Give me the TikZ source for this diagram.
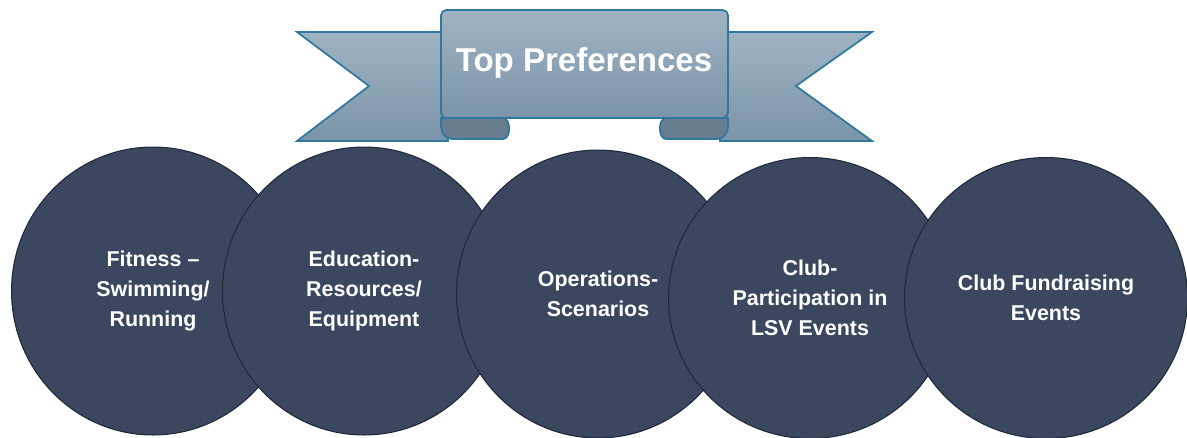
\documentclass[tikz,border=0pt]{standalone}
\usepackage{fontspec}
\setmainfont{Liberation Sans}
\usetikzlibrary{shapes.geometric}
\definecolor{bubblefill}{HTML}{3A475F}
\definecolor{bubbleedge}{HTML}{1D2A3A}
\definecolor{ribbonedge}{HTML}{31789E}
\definecolor{ribbontop}{HTML}{A0B3C3}
\definecolor{ribbonbottom}{HTML}{7B94A9}
\definecolor{ribbonfold}{HTML}{687D90}

\begin{document}
\begin{tikzpicture}[x=0.02cm, y=-0.02cm,
    bubble/.style={ellipse, draw=bubbleedge, fill=bubblefill, line width=0.6pt,
      minimum width=5.66cm, minimum height=5.76cm, inner sep=0pt,
      align=center, text=white, font=\fontsize{12.2}{17}\selectfont\bfseries},
    ribbon/.style={draw=ribbonedge, line width=1pt, top color=ribbontop,
      bottom color=ribbonbottom},
    fold/.style={draw=ribbonedge, line width=1pt, fill=ribbonfold}]
    \useasboundingbox (0,0) rectangle (1187,437);

    \path [ribbon] (297,32) -- (448,32) -- (448,141) -- (297,141) --
    (369,86) -- cycle; \path [ribbon] (872,32) -- (720,32) -- (720,141)
    -- (872,141) -- (796,86) -- cycle;
    \path [fold] (441,118) -- (503,118) to [out=0,in=0] (503,139) --
    (452,139) to [out=180,in=-90] (441,126) -- cycle; \path [fold]
    (728,118) -- (666,118) to [out=180,in=180] (666,139) -- (717,139)
    to [out=0,in=-90] (728,126) -- cycle;
    \path [ribbon, rounded corners=3pt] (441,118) -- (441,10) -- (728,10)
    -- (728,118) -- cycle;
    \node [text=white, font=\fontsize{18.8}{22}\selectfont\bfseries] (title)
    at (584,63) {Top Preferences};

    \begin{scope}[every node/.style={bubble}]
      \node (1) at (153,291) {Fitness --\\Swimming/\\Running};
      \node (2) at (364,291) {Education-\\Resources/\\Equipment};
      \node (3) at (598,294) {Operations-\\Scenarios};
      \node [minimum height=5.62cm] (4) at (810,298)
      {Club-\\Participation in\\LSV Events};
      \node [minimum height=5.62cm] (5) at (1046,298)
      {Club Fundraising\\Events};
    \end{scope}
\end{tikzpicture}
\end{document}
